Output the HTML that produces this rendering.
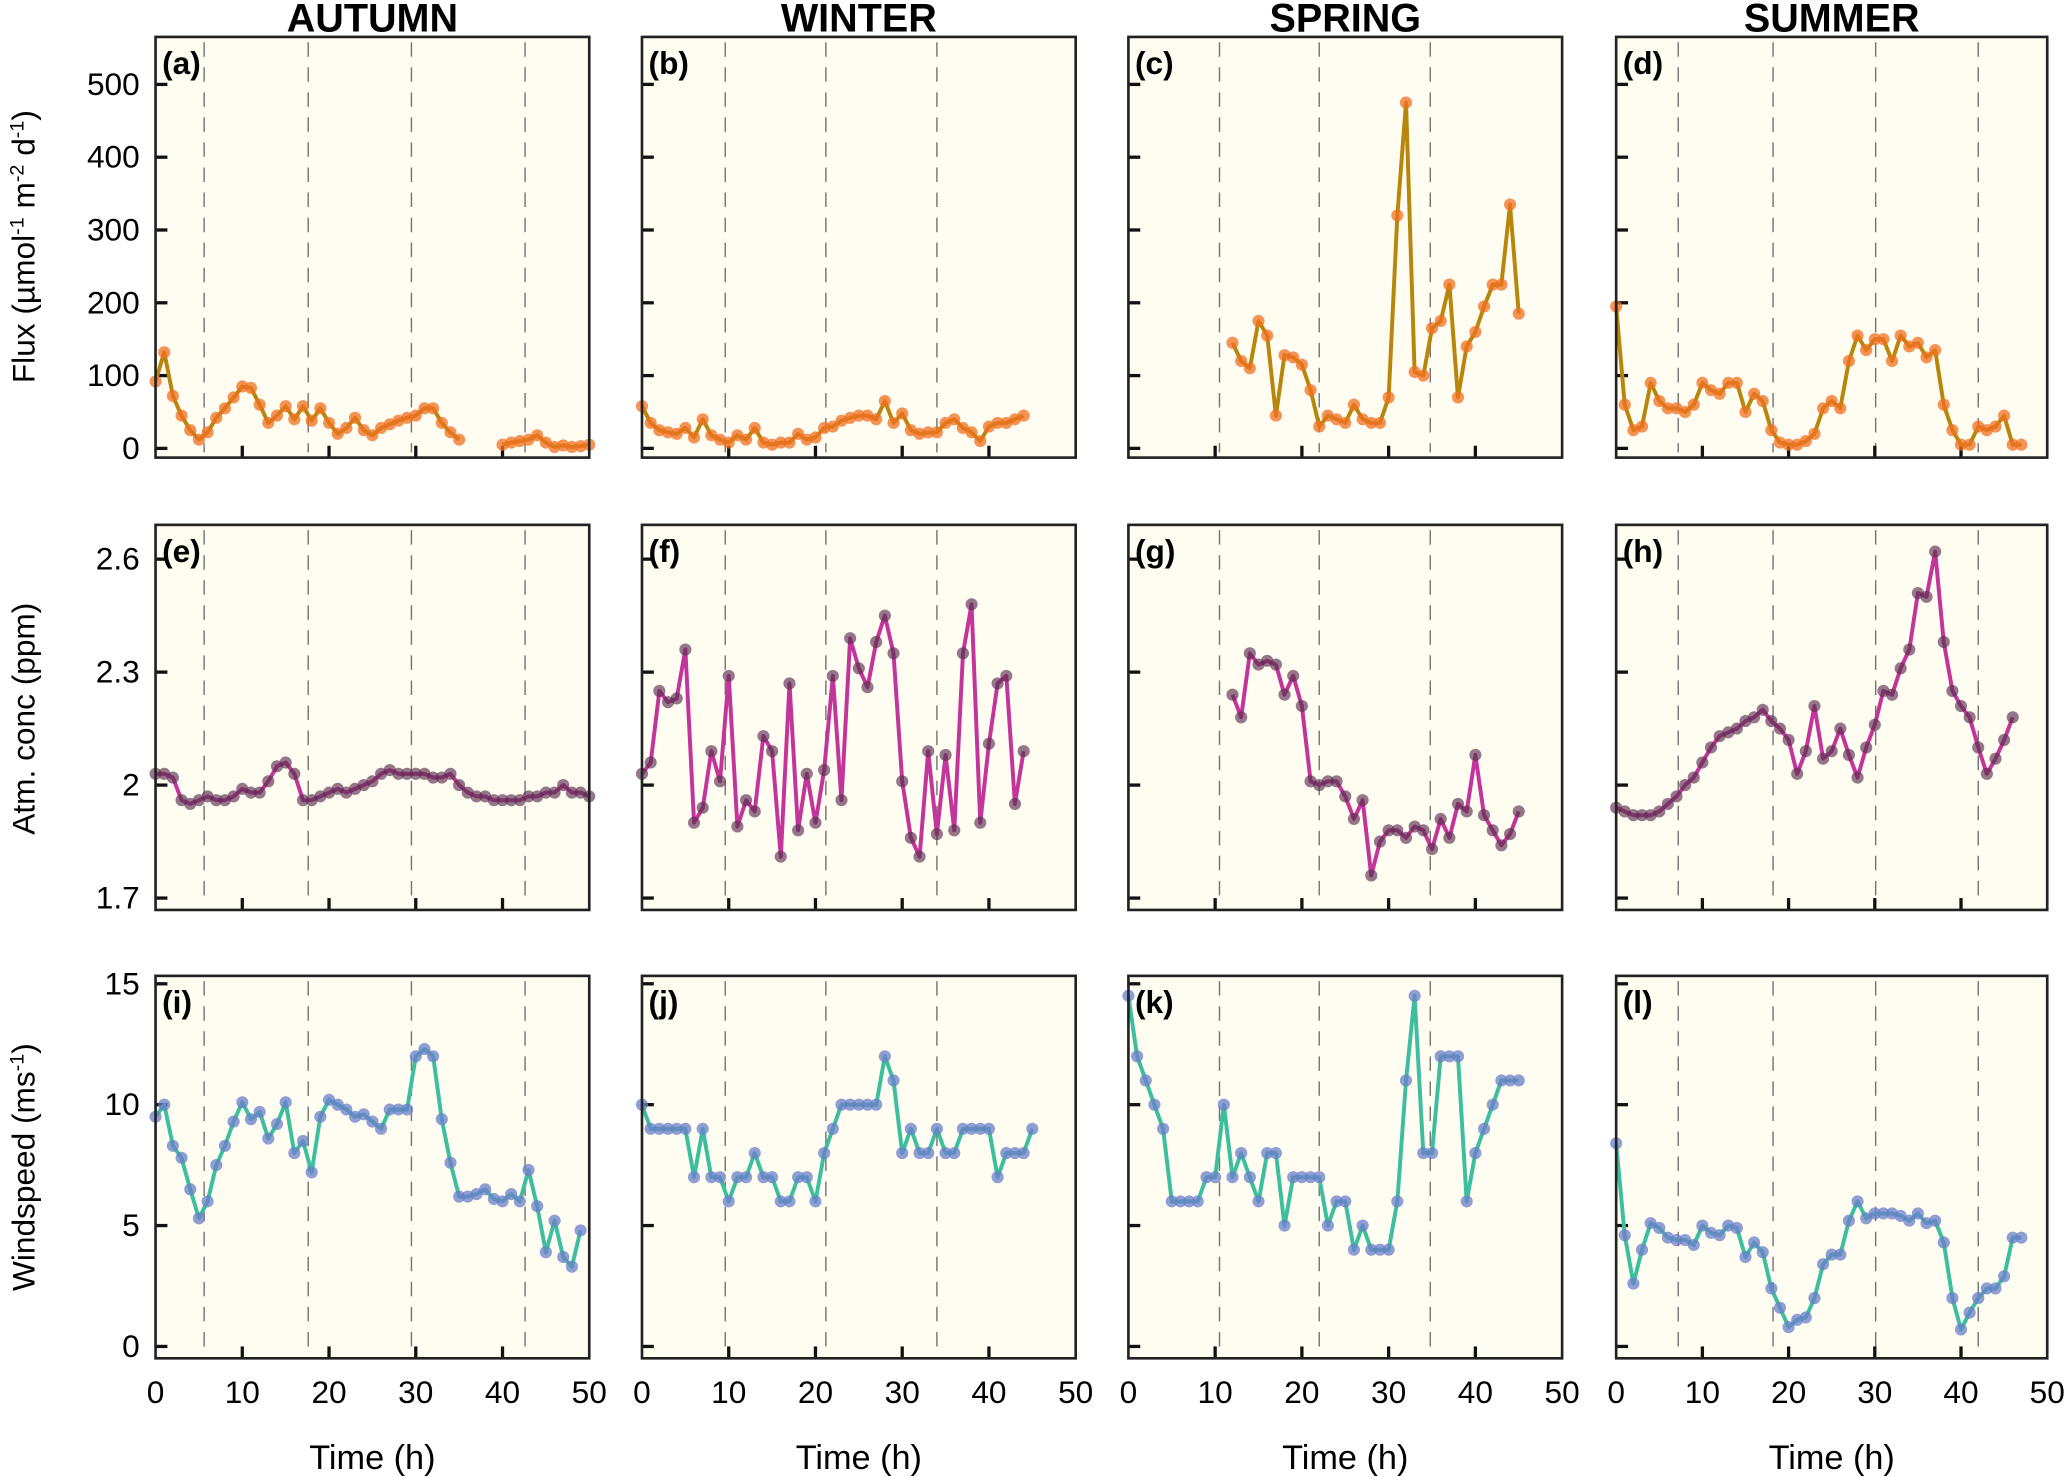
<!DOCTYPE html>
<html><head><meta charset="utf-8"><style>
html,body{margin:0;padding:0;background:#fff;}
svg{display:block;font-family:"Liberation Sans",sans-serif;}
</style></head><body>
<svg id="chart" width="2067" height="1477" viewBox="0 0 1568 1120" preserveAspectRatio="none" xmlns="http://www.w3.org/2000/svg"></svg>
<script>
const seasons = ["AUTUMN","WINTER","SPRING","SUMMER"];
const panelLetters = ["a","b","c","d","e","f","g","h","i","j","k","l"];
const xTicks = [0,10,20,30,40,50];
const fluxTicks = [0,100,200,300,400,500];
const concTicks = [1.7,2,2.3,2.6];
const concTickLabels = ["1.7","2","2.3","2.6"];
const windTicks = [0,5,10,15];
const dashedLines = [[5.6,17.6,29.5,42.6],[9.6,21.2,34.0],[10.5,22.0,34.8],[7.2,18.2,30.1,42.0]];

const fluxA_t1 = [0,1,2,3,4,5,6,7,8,9,10,11,12,13,14,15,16,17,18,19,20,21,22,23,24,25,26,27,28,29,30,31,32,33,34,35];
const fluxA_v1 = [92,132,72,45,25,12,22,42,55,70,85,83,60,35,45,58,40,58,38,55,35,20,28,42,25,18,28,33,38,42,45,55,55,35,22,12];
const fluxA_t2 = [40,41,42,43,44,45,46,47,48,49,50];
const fluxA_v2 = [5,8,10,12,18,8,2,4,2,3,5];
const fluxB = [58,35,25,22,20,28,15,40,18,12,8,18,12,28,8,5,8,8,20,12,15,28,30,38,42,45,45,40,65,35,48,25,20,22,22,35,40,28,22,10,30,35,35,40,45];
const fluxC_start = 12;
const fluxC = [145,120,110,175,155,45,128,125,115,80,30,45,40,35,60,40,35,35,70,320,475,105,100,165,175,225,70,140,160,195,225,225,335,185];
const fluxD = [195,60,25,30,90,65,55,55,50,60,90,80,75,90,90,50,75,65,25,8,5,5,10,20,55,65,55,120,155,135,150,150,120,155,140,145,125,135,60,25,5,5,30,25,30,45,5,5];

const concE = [2.03,2.03,2.02,1.96,1.95,1.96,1.97,1.96,1.96,1.97,1.99,1.98,1.98,2.01,2.05,2.06,2.03,1.96,1.96,1.97,1.98,1.99,1.98,1.99,2.00,2.01,2.03,2.04,2.03,2.03,2.03,2.03,2.02,2.02,2.03,2.00,1.98,1.97,1.97,1.96,1.96,1.96,1.96,1.97,1.97,1.98,1.98,2.00,1.98,1.98,1.97];
const concF = [2.03,2.06,2.25,2.22,2.23,2.36,1.90,1.94,2.09,2.01,2.29,1.89,1.96,1.93,2.13,2.09,1.81,2.27,1.88,2.03,1.90,2.04,2.29,1.96,2.39,2.31,2.26,2.38,2.45,2.35,2.01,1.86,1.81,2.09,1.87,2.08,1.88,2.35,2.48,1.90,2.11,2.27,2.29,1.95,2.09];
const concG_start = 12;
const concG = [2.24,2.18,2.35,2.32,2.33,2.32,2.24,2.29,2.21,2.01,2.00,2.01,2.01,1.97,1.91,1.96,1.76,1.85,1.88,1.88,1.86,1.89,1.88,1.83,1.91,1.86,1.95,1.93,2.08,1.92,1.88,1.84,1.87,1.93];
const concH = [1.94,1.93,1.92,1.92,1.92,1.93,1.95,1.97,2.00,2.02,2.06,2.10,2.13,2.14,2.15,2.17,2.18,2.20,2.17,2.15,2.12,2.03,2.09,2.21,2.07,2.09,2.15,2.08,2.02,2.10,2.16,2.25,2.24,2.31,2.36,2.51,2.50,2.62,2.38,2.25,2.21,2.18,2.10,2.03,2.07,2.12,2.18];

const windI = [9.5,10,8.3,7.8,6.5,5.3,6,7.5,8.3,9.3,10.1,9.4,9.7,8.6,9.2,10.1,8,8.5,7.2,9.5,10.2,10,9.8,9.5,9.6,9.3,9,9.8,9.8,9.8,12,12.3,12,9.4,7.6,6.2,6.2,6.3,6.5,6.1,6,6.3,6,7.3,5.8,3.9,5.2,3.7,3.3,4.8];
const windJ = [10,9,9,9,9,9,7,9,7,7,6,7,7,8,7,7,6,6,7,7,6,8,9,10,10,10,10,10,12,11,8,9,8,8,9,8,8,9,9,9,9,7,8,8,8,9];
const windK = [14.5,12,11,10,9,6,6,6,6,7,7,10,7,8,7,6,8,8,5,7,7,7,7,5,6,6,4,5,4,4,4,6,11,14.5,8,8,12,12,12,6,8,9,10,11,11,11];
const windL = [8.4,4.6,2.6,4,5.1,4.9,4.5,4.4,4.4,4.2,5,4.7,4.6,5,4.9,3.7,4.3,3.9,2.4,1.6,0.8,1.1,1.2,2,3.4,3.8,3.8,5.2,6,5.3,5.5,5.5,5.5,5.4,5.2,5.5,5.1,5.2,4.3,2,0.7,1.4,2,2.4,2.4,2.9,4.5,4.5];

const NS="http://www.w3.org/2000/svg";
const svg=document.getElementById('chart');
function mk(tag,attrs,parent){const e=document.createElementNS(NS,tag);for(const k in attrs)e.setAttribute(k,attrs[k]);(parent||svg).appendChild(e);return e;}
const colX0=[118,487,856,1226], colW=[329,329,329,327];
const rows=[{top:28,bot:347,y0:340,y1:64,v0:0,v1:500},{top:398,bot:690,y0:681,y1:424,v0:1.7,v1:2.6},{top:740,bot:1030,y0:1021,y1:746,v0:0,v1:15}];
function xs(c,t){return colX0[c]+t/50*colW[c];}
function ys(r,v){const R=rows[r];return R.y0+(v-R.v0)/(R.v1-R.v0)*(R.y1-R.y0);}
const styles=[{line:"#b8860b",dot:"#f07020",dotOp:0.75},{line:"#c4359c",dot:"#5a3050",dotOp:0.65},{line:"#3dbf9f",dot:"#6a7fc8",dotOp:0.75}];

seasons.forEach((s,c)=>{const t=mk('text',{x:colX0[c]+colW[c]/2,y:24,'text-anchor':'middle','font-size':30,'font-weight':'bold'});t.textContent=s;

});
const yTitles=[["Flux (µmol",["-1"]," m",["-2"]," d",["-1"],")"],["Atm. conc (ppm)"],["Windspeed (ms",["-1"],")"]];
const yCenters=[187,545,885];
const yNames=['flux-axis-title','conc-axis-title','windspeed-axis-title'];
yTitles.forEach((parts,r)=>{const t=mk('text',{x:0,y:0,'text-anchor':'middle','font-size':24,transform:`translate(26,${yCenters[r]}) rotate(-90)`});


parts.forEach(p=>{if(typeof p==='string'){const s=mk('tspan',{},t);s.textContent=p;}else{const s=mk('tspan',{'baseline-shift':'super','font-size':15},t);s.textContent=p[0];}});});

const panelData=[
 [[fluxA_t1,fluxA_v1],[fluxA_t2,fluxA_v2]],[[fluxB.map((_,i)=>i),fluxB]],[[fluxC.map((_,i)=>i+fluxC_start),fluxC]],[[fluxD.map((_,i)=>i),fluxD]],
 [[concE.map((_,i)=>i),concE]],[[concF.map((_,i)=>i),concF]],[[concG.map((_,i)=>i+concG_start),concG]],[[concH.map((_,i)=>i),concH]],
 [[windI.map((_,i)=>i),windI]],[[windJ.map((_,i)=>i),windJ]],[[windK.map((_,i)=>i),windK]],[[windL.map((_,i)=>i),windL]]
];
const yTickSets=[fluxTicks,concTicks,windTicks];
const yTickLabelSets=[fluxTicks.map(String),concTickLabels,windTicks.map(String)];

for(let r=0;r<3;r++)for(let c=0;c<4;c++){
 const R=rows[r], x0=colX0[c], x1=x0+colW[c], idx=r*4+c;
 const g=mk('g',{});
 
 
 mk('rect',{x:x0,y:R.top,width:colW[c],height:R.bot-R.top,fill:'#fffcf1',stroke:'none'},g);
 dashedLines[c].forEach(d=>{const l=mk('line',{x1:xs(c,d),x2:xs(c,d),y1:R.top+4,y2:R.bot-4,stroke:'#777','stroke-width':1.1,'stroke-dasharray':'11,8'},g);
  
  });
 yTickSets[r].forEach((v,i)=>{const y=ys(r,v);mk('line',{x1:x0,x2:x0+9,y1:y,y2:y,stroke:'#111','stroke-width':2.5},g);
  if(c===0){const t=mk('text',{x:x0-12,y:y+8,'text-anchor':'end','font-size':24},g);t.textContent=yTickLabelSets[r][i];
  
  }});
 [10,20,30,40].forEach(v=>mk('line',{x1:xs(c,v),x2:xs(c,v),y1:R.bot,y2:R.bot-9,stroke:'#111','stroke-width':2.5},g));
 if(r===2){xTicks.forEach(v=>{const t=mk('text',{x:xs(c,v),y:1064,'text-anchor':'middle','font-size':24},g);t.textContent=String(v);
  
  });
  const xt=mk('text',{x:x0+colW[c]/2,y:1114,'text-anchor':'middle','font-size':26},g);xt.textContent='Time (h)';
  
  }
 const st=styles[r];
 panelData[idx].forEach(([ts,vs])=>{
  const pts=ts.map((t,i)=>xs(c,t).toFixed(1)+','+ys(r,vs[i]).toFixed(1)).join(' ');
  const pl=mk('polyline',{points:pts,fill:'none',stroke:st.line,'stroke-width':3,'stroke-linejoin':'round'},g);
  
  
  ts.forEach((t,i)=>{const p=mk('circle',{cx:xs(c,t),cy:ys(r,vs[i]),r:4.6,fill:st.dot,'fill-opacity':st.dotOp},g);
   
   });
 });
 mk('rect',{x:x0,y:R.top,width:colW[c],height:R.bot-R.top,fill:'none',stroke:'#222','stroke-width':2},g);
 const lb=mk('text',{x:x0+5,y:R.top+28,'font-size':24,'font-weight':'bold'},g);lb.textContent='('+panelLetters[idx]+')';
 
 
}
</script>
</body></html>
